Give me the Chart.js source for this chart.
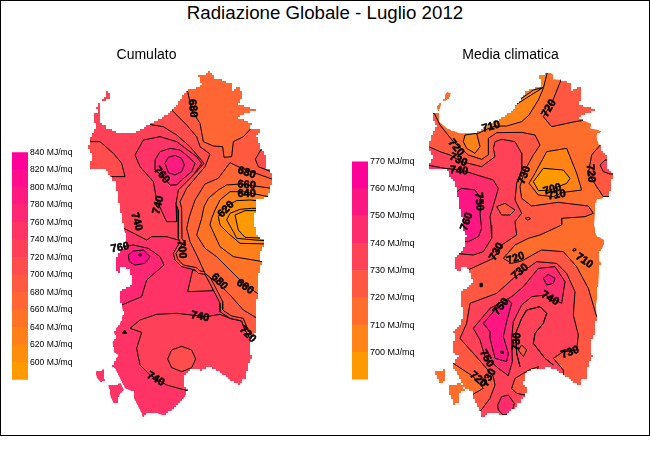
<!DOCTYPE html>
<html>
<head>
<meta charset="utf-8">
<title>Radiazione Globale - Luglio 2012</title>
<script src="https://cdn.jsdelivr.net/npm/chart.js@4"></script>
<style>
    html, body { margin: 0; background: #fff; }
    #frame { position: absolute; left: 0; top: 0; width: 648px; height: 434px; border: 1px solid #000; }
    #mainTitle { position: absolute; left: 0; top: 2px; width: 650px; text-align: center; font: 18.7px "Liberation Sans"; color: #000; }
    canvas { position: absolute; }
</style>
</head>
<body>
<div id="frame"></div>
<div id="mainTitle">Radiazione Globale - Luglio 2012</div>
<canvas id="mapLeft" style="left:0;top:47px" width="293" height="378"></canvas>
<canvas id="legendLeft" style="left:12px;top:145px" width="66" height="242"></canvas>
<canvas id="mapRight" style="left:401px;top:47px" width="219" height="378"></canvas>
<canvas id="legendRight" style="left:352px;top:154px" width="66" height="233"></canvas>
<script>
// livelli delle due legende (MJ/mq)
const levelsCumulato = [600, 620, 640, 660, 680, 700, 720, 740, 760, 780, 800, 820, 840];
const levelsMedia = [700, 710, 720, 730, 740, 750, 760, 770];

// costa della Sardegna, griglia della mappa
const coast = [[595,222],[610,222],[625,213],[640,225],[640,238],[665,240],[695,252],[695,270],[720,258],[725,290],[715,315],[745,322],[765,330],[755,335],[730,345],[715,355],[755,372],[750,385],[785,392],[770,410],[775,430],[785,450],[798,470],[800,505],[818,525],[815,545],[810,570],[805,590],[770,600],[765,640],[762,675],[765,685],[768,705],[792,720],[792,735],[778,760],[778,785],[788,790],[778,800],[775,850],[772,890],[768,915],[770,955],[765,975],[765,1000],[752,1025],[752,1065],[760,1067],[750,1085],[740,1115],[738,1135],[725,1140],[722,1155],[700,1145],[680,1130],[655,1110],[625,1100],[605,1110],[580,1105],[555,1125],[550,1155],[562,1172],[555,1190],[530,1220],[510,1235],[495,1247],[470,1240],[445,1240],[428,1253],[425,1240],[415,1220],[402,1195],[400,1175],[375,1165],[365,1145],[345,1105],[333,1100],[345,1080],[355,1065],[340,1055],[338,1025],[348,1010],[340,995],[360,970],[370,940],[365,915],[360,900],[362,870],[385,860],[400,840],[385,805],[362,800],[358,820],[345,795],[345,773],[360,755],[375,730],[378,705],[370,685],[370,670],[360,625],[355,590],[345,545],[330,530],[320,505],[268,505],[270,485],[280,470],[265,440],[272,410],[290,375],[280,360],[280,340],[295,335],[290,320],[310,295],[320,275],[332,280],[328,298],[305,305],[300,325],[298,365],[320,385],[360,400],[400,400],[440,375],[490,350],[515,330],[540,300],[560,270],[590,262],[605,255]];
const sanPietro = [[285,1115],[313,1107],[315,1145],[302,1147],[292,1135]];
const santAntioco = [[325,1155],[362,1150],[372,1170],[358,1185],[355,1210],[342,1212],[332,1190]];

// Cumulato: bande
const cumNorth = [[250,200],[900,200],[900,720],[535,720],[500,710],[455,710],[440,720],[372,685],[340,685],[250,685]];
const cumNorthWest = [[255,400],[272,425],[300,425],[340,460],[365,490],[375,530],[335,530],[320,545],[255,545]];
const cumWest780 = [[365,915],[425,890],[440,840],[492,795],[480,770],[445,745],[400,735],[370,740],[330,745],[330,925]];
const cumWest800 = [[385,765],[400,753],[430,750],[450,770],[435,790],[405,795],[388,785]];
const cumWestRing = [[417,762],[424,762],[424,768],[418,768]];
const cumLoop740 = [[405,465],[430,420],[480,410],[530,425],[590,470],[605,490],[580,525],[540,570],[528,610],[530,665],[500,665],[470,600],[460,545],[420,500]];
const cumLoop760 = [[465,480],[480,455],[510,445],[540,450],[565,470],[585,490],[575,515],[545,540],[530,555],[510,555],[490,530],[465,510]];
const cumLoop780 = [[495,490],[505,472],[525,466],[545,475],[553,495],[545,515],[525,525],[505,518]];
const cumSouth = [[390,985],[420,960],[470,943],[530,940],[620,950],[660,943],[690,955],[725,963],[735,990],[762,1035],[800,1100],[760,1190],[562,1172],[500,1155],[450,1125],[420,1095],[410,1045],[425,997]];
const cumSouthCircle = [[503,1077],[515,1050],[545,1039],[575,1050],[587,1077],[575,1103],[545,1115],[515,1103]];
const cumDot = [[368,1000],[380,1000],[374,990]];
const cumPocket = [[578,810],[563,875],[640,872],[620,820]];
const cumStrip720 = [[440,372],[490,380],[530,405],[570,440],[612,490],[590,515],[535,570],[528,612],[535,630],[535,715],[540,725],[520,760],[525,780],[545,800],[585,810],[595,820],[615,823],[640,870],[660,910],[660,935],[690,955],[725,963],[735,990],[762,1035],[900,1035],[900,200],[440,200]];
const cumStrip700 = [[515,330],[560,375],[590,410],[600,440],[630,462],[615,500],[560,565],[540,605],[545,625],[546,715],[552,725],[528,760],[533,777],[550,795],[590,803],[600,813],[622,815],[648,865],[668,905],[668,930],[695,948],[730,955],[742,985],[768,1030],[900,1030],[900,200],[515,200]];
const cumNorthEast = [[562,200],[562,270],[575,330],[600,370],[610,425],[640,438],[668,440],[672,472],[695,470],[700,425],[730,410],[760,378],[900,378],[900,200]];
const cumEastPocket = [[782,450],[766,478],[775,500],[830,522],[840,450]];
const cumEast680 = [[830,542],[725,505],[690,488],[655,535],[615,552],[585,600],[568,650],[560,685],[570,725],[590,765],[615,820],[640,840],[665,860],[690,885],[730,930],[780,960],[900,960],[900,542]];
const cumEast660 = [[830,567],[720,552],[680,555],[655,570],[625,595],[612,620],[605,655],[590,705],[615,745],[650,770],[690,810],[725,845],[785,890],[900,890],[900,567]];
const cumEast640 = [[830,595],[730,575],[690,575],[660,600],[645,630],[635,655],[630,675],[660,740],[700,770],[800,787],[900,787],[900,595]];
const cumEast620 = [[830,608],[750,600],[710,602],[685,615],[660,640],[655,650],[660,675],[685,700],[720,730],[810,732],[900,732],[900,608]];
const cumEast600 = [[690,640],[720,628],[755,625],[800,625],[800,722],[765,720],[710,715],[700,695],[680,660]];
const cumCore = [[705,645],[735,632],[800,632],[800,715],[735,712],[715,690]];

// Media climatica: bande
const medNorth710 = [[460,400],[480,390],[510,378],[545,378],[590,365],[612,345],[640,300],[655,265],[668,213],[668,180],[450,180],[450,400]];
const medBlob710 = [[415,425],[420,405],[455,400],[465,440],[450,460],[425,445]];
const medNorthLine = [[555,325],[590,295],[625,270],[655,262]];
const medNorthEast = [[710,235],[680,310],[655,350],[680,380],[750,365],[815,355],[880,355],[880,200],[710,200]];
const medEast730 = [[830,430],[800,465],[790,520],[815,560],[835,590],[900,590],[900,430]];
const medEast740 = [[840,480],[825,495],[835,515],[855,522],[900,522],[900,480]];
const medMain730 = [[328,340],[345,375],[385,425],[430,465],[470,478],[490,465],[490,415],[515,398],[590,397],[630,405],[645,435],[625,465],[600,510],[585,560],[590,595],[620,618],[700,607],[790,618],[805,640],[780,650],[710,655],[710,675],[645,705],[610,715],[570,735],[535,775],[560,790],[590,783],[640,755],[650,750],[715,755],[755,800],[790,865],[815,950],[900,950],[900,1290],[280,1290],[280,340]];
const medPocket720 = [[300,1085],[385,1090],[445,1130],[475,1165],[440,1185],[420,1225],[300,1225]];
const medNorth740 = [[300,435],[345,455],[375,465],[410,485],[470,500],[510,470],[505,445],[510,425],[530,418],[570,425],[590,460],[590,510],[575,550],[570,600],[590,640],[570,665],[575,705],[530,735],[505,775],[440,805],[385,825],[280,825],[280,435]];
const medHole730 = [[515,620],[540,610],[570,630],[555,645],[530,645]];
const medWest750 = [[280,490],[360,505],[410,510],[440,520],[505,540],[520,565],[510,600],[495,650],[498,675],[500,715],[475,755],[445,765],[390,760],[280,760]];
const medWest760 = [[395,575],[410,565],[450,570],[470,600],[465,640],[470,685],[460,710],[430,725],[380,725],[380,600]];
const medCentre710 = [[665,455],[725,445],[755,520],[770,570],[715,577],[685,590],[640,585],[612,550],[630,520]];
const medCentre700 = [[655,505],[715,510],[735,535],[725,550],[675,570],[640,572],[625,545]];
const medSmallRing = [[600,655],[610,652],[617,656],[608,660]];
const medEastRing = [[744,748],[750,746],[752,751],[746,753]];
const medDot = [[465,850],[471,850],[471,860],[465,860]];
const medSouth740 = [[715,1110],[685,1075],[715,1055],[755,1050],[760,1005],[745,945],[750,875],[725,820],[695,790],[635,785],[565,835],[515,880],[435,910],[425,970],[405,1015],[445,1060],[480,1100],[505,1130],[510,1155],[495,1195],[465,1235],[465,1290],[715,1290]];
const medSouth750 = [[445,985],[495,925],[560,890],[595,860],[640,805],[690,800],[720,845],[710,910],[660,885],[620,890],[590,915],[565,965],[560,1015],[562,1085],[550,1127],[520,1105],[480,1070],[465,1020]];
const medSouth760 = [[475,970],[510,930],[550,900],[560,910],[545,965],[535,1010],[550,1060],[545,1085],[510,1075],[495,1015],[495,995]];
const medSouthRing = [[527,1054],[534,1054],[534,1060],[528,1060]];
const medRing760 = [[655,835],[670,823],[690,835],[685,850],[665,855]];
const medInnerLine = [[585,1100],[575,1060],[572,1000],[590,955],[605,930],[645,920],[665,940],[655,970],[630,1000],[625,1030],[660,1075],[685,1095]];
const medDiamond = [[590,1035],[605,1050],[595,1070],[580,1050]];
const medBay730 = [[612,1110],[570,1135],[560,1165],[575,1180],[600,1185],[620,1170],[640,1100]];
const medOval750 = [[518,1215],[530,1190],[550,1185],[568,1210],[560,1240],[535,1245],[520,1230]];

// etichette delle isolinee: testo, x, y, angolo
const cumLabels = [['680',578,325,85],['760',485,525,50],['740',475,615,-75],['740',410,665,75],['680',740,518,20],['660',740,555,5],['640',740,583,0],['620',678,628,-45],['700',545,748,85],['760',360,743,-10],['680',658,845,45],['660',735,860,35],['740',600,950,10],['740',467,1137,30],['720',743,1003,45]];
const medLabels = [['710',498,380,-15],['720',672,325,-60],['720',393,443,50],['730',400,480,25],['740',402,512,5],['730',598,525,-70],['720',797,520,85],['700',682,568,-15],['710',695,585,-10],['750',462,605,85],['760',425,665,-70],['730',515,755,-60],['720',572,775,-20],['730',585,815,-40],['710',778,782,35],['740',675,895,30],['750',528,920,-50],['730',575,1025,-85],['730',735,1057,-20],['750',485,1075,60],['720',460,1138,40],['730',492,1133,-60]];

const FONT = 'Liberation Sans';
const COAST_STEP = 2; // la costa dell'originale e' a scalini

// rampa arancio -> magenta, una cella per livello
function rampColor(levels, level) {
    const t = levels.indexOf(level) / (levels.length - 1);
    return `rgb(255, ${Math.round(153 - 153 * t)}, ${Math.round(153 * t)})`;
}

function toPoints(pts) {
    return pts.concat([pts[0]]).map(p => ({ x: p[0], y: p[1] }));
}

function shape(pts, color, line) {
    return {
        data: toPoints(pts),
        showLine: true,
        pointRadius: 0,
        tension: 0,
        fill: color ? 'shape' : false,
        backgroundColor: color || 'transparent',
        borderColor: line ? '#000' : 'transparent',
        borderWidth: line ? 1 : 0
    };
}

function renderLegend(id, levels, fontSize) {
    new Chart(document.getElementById(id), {
        type: 'bar',
        data: {
            labels: [''],
            datasets: levels.map(level => ({
                data: [1],
                backgroundColor: rampColor(levels, level),
                barPercentage: 1,
                categoryPercentage: 1
            }))
        },
        options: {
            responsive: false,
            animation: false,
            layout: { padding: { top: 6, bottom: 6 } },
            plugins: { legend: { display: false }, tooltip: { enabled: false } },
            scales: {
                x: { stacked: true, display: false },
                y: {
                    stacked: true,
                    position: 'right',
                    min: 0,
                    max: levels.length,
                    afterFit: scale => { scale.width = 50; },
                    border: { display: false },
                    grid: { display: false, drawTicks: false },
                    ticks: {
                        stepSize: 1,
                        padding: 2,
                        color: '#000',
                        font: { family: FONT, size: fontSize },
                        callback: v => v > 0 ? levels[v - 1] + ' MJ/mq' : ''
                    }
                }
            }
        }
    });
}

// traccia un contorno chiuso a scalini sulla griglia dei pixel
function steppedPath(ctx, part, scales) {
    const pixels = part.map(p => [scales.x.getPixelForValue(p[0]), scales.y.getPixelForValue(p[1])]);
    const snap = v => Math.round(v / COAST_STEP) * COAST_STEP;
    ctx.moveTo(snap(pixels[0][0]), snap(pixels[0][1]));
    pixels.forEach((from, i) => {
        const to = pixels[(i + 1) % pixels.length];
        const steps = Math.max(1, Math.ceil(Math.hypot(to[0] - from[0], to[1] - from[1]) / COAST_STEP));
        for (let s = 1; s <= steps; s++) {
            const x = snap(from[0] + (to[0] - from[0]) * s / steps);
            const y = snap(from[1] + (to[1] - from[1]) * s / steps);
            ctx.lineTo(x, snap(from[1] + (to[1] - from[1]) * (s - 1) / steps));
            ctx.lineTo(x, y);
        }
    });
    ctx.closePath();
}

function renderMap(id, title, shiftX, xMin, xMax, layers, labels) {
    const land = [coast, sanPietro, santAntioco].map(part => part.map(p => [p[0] + shiftX, p[1]]));

    // costa e bande sono ritagliate sulla sagoma dell'isola
    const clipToLand = {
        id: 'clipToLand',
        beforeDatasetsDraw(chart) {
            const { ctx, scales } = chart;
            ctx.save();
            ctx.beginPath();
            land.forEach(part => steppedPath(ctx, part, scales));
            ctx.clip();
        },
        afterDatasetsDraw(chart) {
            const { ctx, scales } = chart;
            ctx.restore();
            ctx.save();
            ctx.fillStyle = '#000';
            ctx.strokeStyle = '#000';
            ctx.lineWidth = 0.5;
            ctx.font = `bold 11px "${FONT}"`;
            ctx.textAlign = 'center';
            ctx.textBaseline = 'middle';
            labels.forEach(l => {
                ctx.save();
                ctx.translate(scales.x.getPixelForValue(l[1]), scales.y.getPixelForValue(l[2]));
                ctx.rotate(l[3] * Math.PI / 180);
                ctx.fillText(l[0], 0, 0);
                ctx.strokeText(l[0], 0, 0);
                ctx.restore();
            });
            ctx.restore();
        }
    };

    new Chart(document.getElementById(id), {
        type: 'scatter',
        data: {
            datasets: layers.map((d, i) => Object.assign(d, { order: layers.length - i }))
        },
        options: {
            responsive: false,
            animation: false,
            layout: { padding: 0 },
            plugins: {
                legend: { display: false },
                tooltip: { enabled: false },
                title: {
                    display: true,
                    text: title,
                    color: '#000',
                    font: { family: FONT, size: 14, weight: 'normal' },
                    padding: { top: 0, bottom: 1.2 }
                }
            },
            scales: {
                x: { type: 'linear', display: false, min: xMin, max: xMax },
                y: { type: 'linear', display: false, min: 195, max: 1275, reverse: true }
            }
        },
        plugins: [clipToLand]
    });
}

const cum = level => rampColor(levelsCumulato, level);
const med = level => rampColor(levelsMedia, level);

renderLegend('legendLeft', levelsCumulato, 8.6);
renderLegend('legendRight', levelsMedia, 9);

renderMap('mapLeft', 'Cumulato', 0, 0, 879, [
    shape(coast, cum(760)), shape(sanPietro, cum(760)), shape(santAntioco, cum(760)),
    shape(cumNorth, cum(740), true),
    shape(cumNorthWest, cum(720), true),
    shape(cumWest780, cum(780), true),
    shape(cumWest800, cum(820), true),
    shape(cumWestRing, null, true),
    shape(cumLoop740, cum(760), true),
    shape(cumLoop760, cum(780), true),
    shape(cumLoop780, cum(800), true),
    shape(cumSouth, cum(740), true),
    shape(cumSouthCircle, cum(720), true),
    shape(cumDot, '#000', true),
    shape(cumPocket, cum(720), true),
    shape(cumStrip720, cum(720), true),
    shape(cumStrip700, cum(700), true),
    shape(cumNorthEast, cum(680), true),
    shape(cumEastPocket, cum(720), true),
    shape(cumEast680, cum(680), true),
    shape(cumEast660, cum(660), true),
    shape(cumEast640, cum(640), true),
    shape(cumEast620, cum(620), true),
    shape(cumEast600, cum(620), true),
    shape(cumCore, cum(600), true)
], cumLabels);

renderMap('mapRight', 'Media climatica', 45, 228, 885, [
    shape(coast.map(p => [p[0] + 45, p[1]]), med(720)),
    shape(medNorth710, med(710), true),
    shape(medBlob710, med(710), true),
    shape(medNorthLine, null, true),
    shape(medNorthEast, med(730), true),
    shape(medEast730, med(730), true),
    shape(medEast740, med(740), true),
    shape(medMain730, med(730), true),
    shape(medPocket720, med(720), true),
    shape(medNorth740, med(740), true),
    shape(medHole730, med(730), true),
    shape(medWest750, med(750), true),
    shape(medWest760, med(760), true),
    shape(medCentre710, med(710), true),
    shape(medCentre700, med(700), true),
    shape(medSmallRing, null, true),
    shape(medEastRing, null, true),
    shape(medDot, '#000', true),
    shape(medSouth740, med(740), true),
    shape(medInnerLine.concat(medInnerLine.slice().reverse()), null, true),
    shape(medBay730, med(730), true),
    shape(medOval750, med(750), true),
    shape(medSouth750, med(750), true),
    shape(medSouth760, med(760), true),
    shape(medSouthRing, null, true),
    shape(medRing760, med(760), true),
    shape(medDiamond, med(730), true)
], medLabels);
</script>
</body>
</html>
